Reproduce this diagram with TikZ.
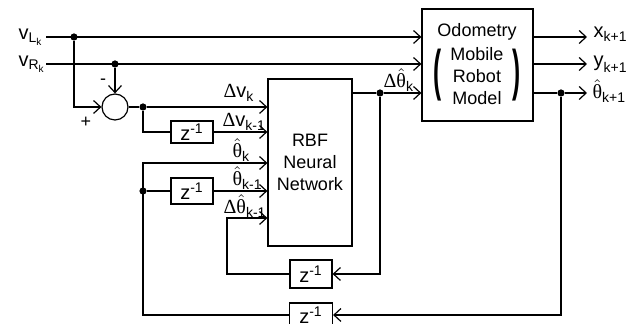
\documentclass[tikz,border=0pt]{standalone}
\usepackage{amsmath}
\usepackage{fontspec}
\setmainfont{Liberation Sans}
\newfontfamily\grk{Liberation Serif}
\usetikzlibrary{arrows.meta}

\tikzset{
  blockbox/.style={draw,inner sep=0pt},
  delaybox/.style={draw,inner sep=0pt,minimum width=21pt,minimum height=12pt,font=\fontsize{10}{11}\selectfont},
  sumnode/.style={draw,circle,inner sep=0pt,minimum size=13pt},
  dot/.style={circle,fill,inner sep=0pt,minimum size=3.6pt},
  lbl/.style={inner sep=0pt,anchor=base west,font=\fontsize{10}{11}\selectfont},
}
\newcommand{\zinv}{z\textsuperscript{-1}}
\newcommand{\gD}{\text{\grk Δ}}
\newcommand{\gth}{\hat{\text{\grk θ}}}

\begin{document}
\begin{tikzpicture}[x=.5pt,y=-.5pt,line width=.6pt,>={Straight Barb[length=3.5pt,width=6.5pt]},
  font=\fontsize{9}{11}\selectfont]
\path[use as bounding box] (0,0) rectangle (644,324);

% blocks
\node[blockbox,minimum width=42pt,minimum height=83.5pt,align=center] (nn) at (310,162.5) {RBF\\Neural\\Network};
\node[blockbox,minimum width=55.5pt,minimum height=56pt] (odo) at (477.5,65) {};
\node (odotxt) at (477,32) {Odometry};
\node[align=center] (robtxt) at (477,76.5) {Mobile\\Robot\\Model};
\node (lpar) at (438,75.5) {\scalebox{1.35}[3.1]{\bfseries(}};
\node (rpar) at (517,75.5) {\scalebox{1.35}[3.1]{\bfseries)}};
\node[sumnode] (sum) at (115,107) {};
\node[delaybox,minimum height=11pt] (z1) at (192,132) {\zinv};
\node[delaybox,minimum height=13pt] (z2) at (192,191) {\zinv};
\node[delaybox,minimum height=14pt] (z3) at (311,274) {\zinv};
\node[delaybox,minimum width=21.5pt] (z4) at (311,315) {\zinv};

% branch points and ends
\coordinate (vLin) at (46,37);
\coordinate (vRin) at (46,64);
\node[dot] (dotL) at (74,37) {};
\node[dot] (dotR) at (115,64) {};
\node[dot] (dotS) at (143,107) {};
\node[dot] (dotF) at (143,191) {};
\node[dot] (dotN) at (380,93) {};
\node[dot] (dotO) at (561,93) {};
\coordinate (thk) at (143,163);
\coordinate (dth) at (227,218);
\coordinate (xout) at (587,37);
\coordinate (yout) at (587,64);
\coordinate (thout) at (587,93);

% inputs
\draw[->] (vLin) -- (vLin -| odo.west);
\draw[->] (vRin) -- (vRin -| odo.west);
\draw[->] (dotL) |- (sum);
\draw[->] (dotR) -- (sum);
\draw (sum) -- (dotS);
\draw[->] (dotS) -- (dotS -| nn.west);
\draw (dotS) |- (z1);
\draw[->] (z1) -- (z1 -| nn.west);
\draw[->] (z4) -| (thk) -- (thk -| nn.west);
\draw (dotF) -- (z2);
\draw[->] (z2) -- (z2 -| nn.west);
\draw[->] (z3) -| (dth) -- (dth -| nn.west);

% outputs
\draw (nn.east |- dotN) -- (dotN);
\draw[->] (dotN) -- (dotN -| odo.west);
\draw[->] (dotN) |- (z3);
\draw[->] (xout -| odo.east) -- (xout);
\draw[->] (yout -| odo.east) -- (yout);
\draw (odo.east |- dotO) -- (dotO);
\draw[->] (dotO) -- (thout);
\draw[->] (dotO) |- (z4);

% labels
\node[lbl] (vLlbl) at (18,40) {$\text{v}_{\text{L}_{\text{k}}}$};
\node[lbl] (vRlbl) at (18,67) {$\text{v}_{\text{R}_{\text{k}}}$};
\node (minus) at (103,82) {-};
\node (plus) at (86,122) {+};
\node[lbl] (dvk) at (223,98) {$\gD\text{v}_{\text{k}}$};
\node[lbl] (dvk1) at (222,127) {$\gD\text{v}_{\text{k-1}}$};
\node[lbl] (thklbl) at (232,158) {$\gth_{\text{k}}$};
\node[lbl] (thk1lbl) at (232,186) {$\gth_{\text{k-1}}$};
\node[lbl] (dthk1lbl) at (223,214) {$\gD\gth_{\text{k-1}}$};
\node[lbl] (dthklbl) at (383,88) {$\gD\gth_{\text{k}}$};
\node[lbl] (xlbl) at (593,38) {$\text{x}_{\text{k+1}}$};
\node[lbl] (ylbl) at (593,67) {$\text{y}_{\text{k+1}}$};
\node[lbl] (thlbl) at (592,99) {$\gth_{\text{k+1}}$};
\end{tikzpicture}
\end{document}
